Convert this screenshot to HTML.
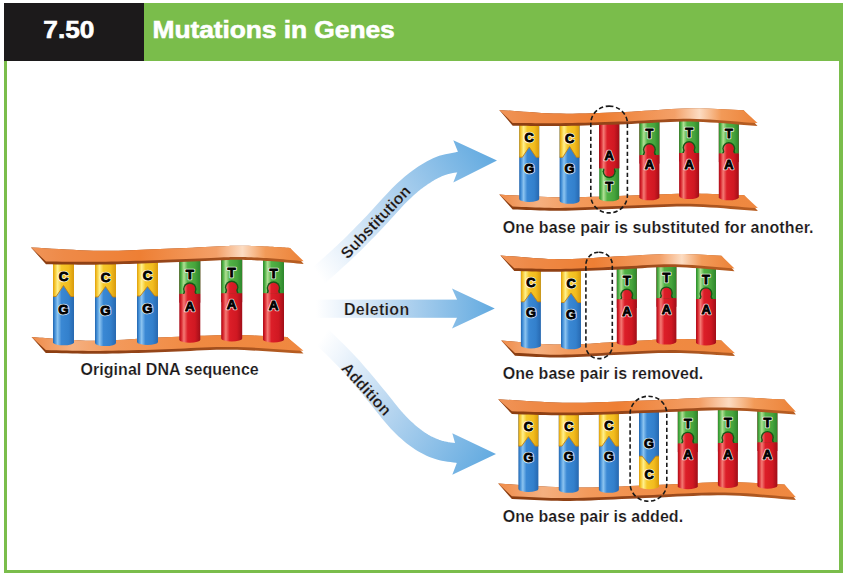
<!DOCTYPE html>
<html><head><meta charset="utf-8"><style>
html,body{margin:0;padding:0;background:#fff;}
svg{display:block;}
.hd{font-family:"Liberation Sans", sans-serif;font-weight:bold;font-size:24.2px;fill:#fff;stroke:#fff;stroke-width:0.6px;}
.cap{font-family:"Liberation Sans", sans-serif;font-weight:bold;font-size:16px;fill:#1a1718;stroke:#fff;stroke-width:0.18px;}
.lh{font-family:"Liberation Sans", sans-serif;font-weight:bold;font-size:12.8px;fill:#000;text-anchor:middle;stroke:rgba(255,255,255,0.8);stroke-width:2.6px;stroke-linejoin:round;}
.lt{font-family:"Liberation Sans", sans-serif;font-weight:bold;font-size:12.8px;fill:#000;text-anchor:middle;stroke:#000;stroke-width:0.85px;stroke-linejoin:round;}
</style></head><body>
<svg width="843" height="574" viewBox="0 0 843 574">
<defs>
<linearGradient id="g_blue" x1="0" y1="0" x2="1" y2="0">
<stop offset="0" stop-color="#2264ac"/>
<stop offset="0.08" stop-color="#3d8ad4"/>
<stop offset="0.22" stop-color="#8cc4f0"/>
<stop offset="0.4" stop-color="#3a88d4"/>
<stop offset="0.75" stop-color="#3380cc"/>
<stop offset="1" stop-color="#2768b0"/>
</linearGradient>
<linearGradient id="g_yellow" x1="0" y1="0" x2="1" y2="0">
<stop offset="0" stop-color="#dc9c0c"/>
<stop offset="0.08" stop-color="#f4c228"/>
<stop offset="0.22" stop-color="#fff08c"/>
<stop offset="0.4" stop-color="#f6c82a"/>
<stop offset="0.75" stop-color="#f2bc1e"/>
<stop offset="1" stop-color="#d89a0c"/>
</linearGradient>
<linearGradient id="g_green" x1="0" y1="0" x2="1" y2="0">
<stop offset="0" stop-color="#2c882c"/>
<stop offset="0.08" stop-color="#48ac40"/>
<stop offset="0.22" stop-color="#b0e094"/>
<stop offset="0.4" stop-color="#52b246"/>
<stop offset="0.75" stop-color="#46a43c"/>
<stop offset="1" stop-color="#2c862c"/>
</linearGradient>
<linearGradient id="g_red" x1="0" y1="0" x2="1" y2="0">
<stop offset="0" stop-color="#a60e1a"/>
<stop offset="0.08" stop-color="#d41c26"/>
<stop offset="0.22" stop-color="#f47a74"/>
<stop offset="0.4" stop-color="#dc1e28"/>
<stop offset="0.75" stop-color="#d01822"/>
<stop offset="1" stop-color="#a00e18"/>
</linearGradient>
<linearGradient id="g_strand" x1="0" y1="0" x2="1" y2="0"><stop offset="0" stop-color="#f09458"/><stop offset="0.12" stop-color="#ee8a48"/><stop offset="0.4" stop-color="#ee7f34"/><stop offset="0.68" stop-color="#f3a068"/><stop offset="0.775" stop-color="#fcdcc2"/><stop offset="0.86" stop-color="#f29a58"/><stop offset="1" stop-color="#ec8238"/></linearGradient>
<linearGradient id="g_strand_b" x1="0" y1="0" x2="1" y2="0"><stop offset="0" stop-color="#ef8c4a"/><stop offset="0.15" stop-color="#f5b080"/><stop offset="0.3" stop-color="#f39a5c"/><stop offset="0.6" stop-color="#f08a42"/><stop offset="1" stop-color="#ef8840"/></linearGradient>
<linearGradient id="g_band" x1="0" y1="0" x2="1" y2="0"><stop offset="0" stop-color="#8a3d10"/><stop offset="0.5" stop-color="#96461a"/><stop offset="1" stop-color="#b85e22"/></linearGradient>
</defs>
<rect x="5.5" y="4.5" width="835.5" height="567" fill="none" stroke="#7abd4b" stroke-width="3"/>
<rect x="839" y="3" width="4" height="570" fill="#7abd4b"/>
<rect x="144" y="3" width="699" height="58" fill="#7abd4b"/>
<rect x="4" y="3" width="140" height="58" fill="#1c1a1b"/>
<text transform="translate(43.3,37.6) scale(1.085,1)" class="hd">7.50</text>
<text transform="translate(152.5,37.6) scale(1.09,1)" class="hd" style="letter-spacing:-0.05px">Mutations in Genes</text>
<polygon points="31.60,337.00 34.39,337.21 37.09,337.43 39.75,337.64 42.40,337.86 45.07,338.08 47.80,338.29 50.63,338.50 53.58,338.71 56.69,338.91 60.00,339.10 63.42,339.31 66.86,339.55 70.36,339.80 73.96,340.06 77.71,340.30 81.64,340.51 85.80,340.68 90.21,340.80 94.94,340.84 100.00,340.80 105.49,340.65 111.40,340.41 117.66,340.09 124.20,339.71 130.94,339.29 137.80,338.86 144.71,338.42 151.60,338.00 158.39,337.62 165.00,337.30 171.54,337.01 178.13,336.71 184.75,336.42 191.38,336.13 197.99,335.87 204.57,335.63 211.08,335.43 217.51,335.26 223.82,335.15 230.00,335.10 236.03,335.12 241.93,335.20 247.71,335.35 253.41,335.53 259.04,335.75 264.64,335.99 270.22,336.23 275.81,336.48 281.43,336.70 287.10,336.90 303.50,353.60 296.11,353.18 288.66,352.72 281.18,352.23 273.69,351.74 266.22,351.26 258.79,350.81 251.43,350.41 244.16,350.08 237.01,349.83 230.00,349.70 223.16,349.69 216.46,349.79 209.88,349.98 203.39,350.24 196.97,350.56 190.59,350.90 184.23,351.24 177.86,351.57 171.46,351.86 165.00,352.10 158.45,352.30 151.83,352.51 145.16,352.71 138.48,352.91 131.82,353.10 125.22,353.27 118.71,353.42 112.31,353.55 106.06,353.64 100.00,353.70 94.14,353.72 88.47,353.69 82.95,353.64 77.54,353.55 72.23,353.45 66.96,353.34 61.72,353.22 56.47,353.10 51.17,352.99 45.80,352.90" fill="url(#g_band)"/>
<polygon points="31.60,337.00 34.39,337.21 37.09,337.43 39.75,337.64 42.40,337.86 45.07,338.08 47.80,338.29 50.63,338.50 53.58,338.71 56.69,338.91 60.00,339.10 63.42,339.31 66.86,339.55 70.36,339.80 73.96,340.06 77.71,340.30 81.64,340.51 85.80,340.68 90.21,340.80 94.94,340.84 100.00,340.80 105.49,340.65 111.40,340.41 117.66,340.09 124.20,339.71 130.94,339.29 137.80,338.86 144.71,338.42 151.60,338.00 158.39,337.62 165.00,337.30 171.54,337.01 178.13,336.71 184.75,336.42 191.38,336.13 197.99,335.87 204.57,335.63 211.08,335.43 217.51,335.26 223.82,335.15 230.00,335.10 236.03,335.12 241.93,335.20 247.71,335.35 253.41,335.53 259.04,335.75 264.64,335.99 270.22,336.23 275.81,336.48 281.43,336.70 287.10,336.90 303.50,350.80 296.11,350.38 288.66,349.92 281.18,349.43 273.69,348.94 266.22,348.46 258.79,348.01 251.43,347.61 244.16,347.28 237.01,347.03 230.00,346.90 223.16,346.89 216.46,346.99 209.88,347.18 203.39,347.44 196.97,347.76 190.59,348.10 184.23,348.44 177.86,348.77 171.46,349.06 165.00,349.30 158.45,349.50 151.83,349.71 145.16,349.91 138.48,350.11 131.82,350.30 125.22,350.47 118.71,350.62 112.31,350.75 106.06,350.84 100.00,350.90 94.14,350.92 88.47,350.89 82.95,350.84 77.54,350.75 72.23,350.65 66.96,350.54 61.72,350.42 56.47,350.30 51.17,350.19 45.80,350.10" fill="url(#g_strand_b)"/>
<linearGradient id="r1_yellow" gradientUnits="userSpaceOnUse" x1="53.00" y1="0" x2="74.00" y2="0"><stop offset="0" stop-color="#dc9c0c"/><stop offset="0.08" stop-color="#f4c228"/><stop offset="0.22" stop-color="#fff08c"/><stop offset="0.4" stop-color="#f6c82a"/><stop offset="0.75" stop-color="#f2bc1e"/><stop offset="1" stop-color="#d89a0c"/></linearGradient>
<linearGradient id="r1_blue" gradientUnits="userSpaceOnUse" x1="53.00" y1="0" x2="74.00" y2="0"><stop offset="0" stop-color="#2264ac"/><stop offset="0.08" stop-color="#3d8ad4"/><stop offset="0.22" stop-color="#8cc4f0"/><stop offset="0.4" stop-color="#3a88d4"/><stop offset="0.75" stop-color="#3380cc"/><stop offset="1" stop-color="#2768b0"/></linearGradient>
<path d="M53.00,255.00 H74.00 V342.30 A10.50,3.00 0 0 1 53.00,342.30 Z" fill="url(#r1_blue)"/>
<path d="M53.00,255.00 H74.00 V296.50 L70.80,296.50 L63.50,285.50 L56.20,296.50 L53.00,296.50 Z" fill="url(#r1_yellow)"/>
<polyline points="53.00,296.50 56.20,296.50 63.50,285.50 70.80,296.50 74.00,296.50" fill="none" stroke="#c0801a" stroke-width="0.9" stroke-linejoin="round"/>
<text transform="translate(63.50,281.48) scale(1,1.000)" class="lh" style="font-size:13.4px">C</text>
<text transform="translate(63.50,281.48) scale(1,1.000)" class="lt" style="font-size:13.4px">C</text>
<text transform="translate(63.50,313.88) scale(1,1.000)" class="lh" style="font-size:13.4px">G</text>
<text transform="translate(63.50,313.88) scale(1,1.000)" class="lt" style="font-size:13.4px">G</text>
<linearGradient id="r2_yellow" gradientUnits="userSpaceOnUse" x1="95.00" y1="0" x2="116.00" y2="0"><stop offset="0" stop-color="#dc9c0c"/><stop offset="0.08" stop-color="#f4c228"/><stop offset="0.22" stop-color="#fff08c"/><stop offset="0.4" stop-color="#f6c82a"/><stop offset="0.75" stop-color="#f2bc1e"/><stop offset="1" stop-color="#d89a0c"/></linearGradient>
<linearGradient id="r2_blue" gradientUnits="userSpaceOnUse" x1="95.00" y1="0" x2="116.00" y2="0"><stop offset="0" stop-color="#2264ac"/><stop offset="0.08" stop-color="#3d8ad4"/><stop offset="0.22" stop-color="#8cc4f0"/><stop offset="0.4" stop-color="#3a88d4"/><stop offset="0.75" stop-color="#3380cc"/><stop offset="1" stop-color="#2768b0"/></linearGradient>
<path d="M95.00,255.00 H116.00 V343.10 A10.50,3.00 0 0 1 95.00,343.10 Z" fill="url(#r2_blue)"/>
<path d="M95.00,255.00 H116.00 V297.00 L112.80,297.00 L105.50,286.60 L98.20,297.00 L95.00,297.00 Z" fill="url(#r2_yellow)"/>
<polyline points="95.00,297.00 98.20,297.00 105.50,286.60 112.80,297.00 116.00,297.00" fill="none" stroke="#c0801a" stroke-width="0.9" stroke-linejoin="round"/>
<text transform="translate(105.50,282.08) scale(1,1.000)" class="lh" style="font-size:13.4px">C</text>
<text transform="translate(105.50,282.08) scale(1,1.000)" class="lt" style="font-size:13.4px">C</text>
<text transform="translate(105.50,314.68) scale(1,1.000)" class="lh" style="font-size:13.4px">G</text>
<text transform="translate(105.50,314.68) scale(1,1.000)" class="lt" style="font-size:13.4px">G</text>
<linearGradient id="r3_yellow" gradientUnits="userSpaceOnUse" x1="137.00" y1="0" x2="158.00" y2="0"><stop offset="0" stop-color="#dc9c0c"/><stop offset="0.08" stop-color="#f4c228"/><stop offset="0.22" stop-color="#fff08c"/><stop offset="0.4" stop-color="#f6c82a"/><stop offset="0.75" stop-color="#f2bc1e"/><stop offset="1" stop-color="#d89a0c"/></linearGradient>
<linearGradient id="r3_blue" gradientUnits="userSpaceOnUse" x1="137.00" y1="0" x2="158.00" y2="0"><stop offset="0" stop-color="#2264ac"/><stop offset="0.08" stop-color="#3d8ad4"/><stop offset="0.22" stop-color="#8cc4f0"/><stop offset="0.4" stop-color="#3a88d4"/><stop offset="0.75" stop-color="#3380cc"/><stop offset="1" stop-color="#2768b0"/></linearGradient>
<path d="M137.00,255.00 H158.00 V341.90 A10.50,3.00 0 0 1 137.00,341.90 Z" fill="url(#r3_blue)"/>
<path d="M137.00,255.00 H158.00 V296.00 L154.80,296.00 L147.50,286.60 L140.20,296.00 L137.00,296.00 Z" fill="url(#r3_yellow)"/>
<polyline points="137.00,296.00 140.20,296.00 147.50,286.60 154.80,296.00 158.00,296.00" fill="none" stroke="#c0801a" stroke-width="0.9" stroke-linejoin="round"/>
<text transform="translate(147.50,279.98) scale(1,1.000)" class="lh" style="font-size:13.4px">C</text>
<text transform="translate(147.50,279.98) scale(1,1.000)" class="lt" style="font-size:13.4px">C</text>
<text transform="translate(147.50,312.68) scale(1,1.000)" class="lh" style="font-size:13.4px">G</text>
<text transform="translate(147.50,312.68) scale(1,1.000)" class="lt" style="font-size:13.4px">G</text>
<linearGradient id="r4_green" gradientUnits="userSpaceOnUse" x1="179.30" y1="0" x2="200.30" y2="0"><stop offset="0" stop-color="#2c882c"/><stop offset="0.08" stop-color="#48ac40"/><stop offset="0.22" stop-color="#b0e094"/><stop offset="0.4" stop-color="#52b246"/><stop offset="0.75" stop-color="#46a43c"/><stop offset="1" stop-color="#2c862c"/></linearGradient>
<linearGradient id="r4_red" gradientUnits="userSpaceOnUse" x1="179.30" y1="0" x2="200.30" y2="0"><stop offset="0" stop-color="#a60e1a"/><stop offset="0.08" stop-color="#d41c26"/><stop offset="0.22" stop-color="#f47a74"/><stop offset="0.4" stop-color="#dc1e28"/><stop offset="0.75" stop-color="#d01822"/><stop offset="1" stop-color="#a00e18"/></linearGradient>
<path d="M179.30,252.00 H200.30 V339.70 A10.50,3.00 0 0 1 179.30,339.70 Z" fill="url(#r4_red)"/>
<path d="M179.30,252.00 H200.30 V293.90 H179.30 Z" fill="url(#r4_green)"/>
<circle cx="189.80" cy="289.10" r="6.80" fill="#175617"/>
<path d="M184.89,289.10 L194.71,289.10 L196.91,293.90 L182.69,293.90 Z" fill="#175617"/>
<rect x="179.30" y="293.90" width="21.00" height="8.80" fill="url(#r4_red)"/>
<circle cx="189.80" cy="289.10" r="5.40" fill="url(#r4_red)"/>
<path d="M186.29,289.10 L193.31,289.10 L195.31,294.20 L184.29,294.20 Z" fill="url(#r4_red)"/>
<text transform="translate(189.80,278.88) scale(1,1.000)" class="lh" style="font-size:13.4px">T</text>
<text transform="translate(189.80,278.88) scale(1,1.000)" class="lt" style="font-size:13.4px">T</text>
<text transform="translate(189.80,310.88) scale(1,1.000)" class="lh" style="font-size:13.4px">A</text>
<text transform="translate(189.80,310.88) scale(1,1.000)" class="lt" style="font-size:13.4px">A</text>
<linearGradient id="r5_green" gradientUnits="userSpaceOnUse" x1="221.20" y1="0" x2="242.20" y2="0"><stop offset="0" stop-color="#2c882c"/><stop offset="0.08" stop-color="#48ac40"/><stop offset="0.22" stop-color="#b0e094"/><stop offset="0.4" stop-color="#52b246"/><stop offset="0.75" stop-color="#46a43c"/><stop offset="1" stop-color="#2c862c"/></linearGradient>
<linearGradient id="r5_red" gradientUnits="userSpaceOnUse" x1="221.20" y1="0" x2="242.20" y2="0"><stop offset="0" stop-color="#a60e1a"/><stop offset="0.08" stop-color="#d41c26"/><stop offset="0.22" stop-color="#f47a74"/><stop offset="0.4" stop-color="#dc1e28"/><stop offset="0.75" stop-color="#d01822"/><stop offset="1" stop-color="#a00e18"/></linearGradient>
<path d="M221.20,250.00 H242.20 V338.50 A10.50,3.00 0 0 1 221.20,338.50 Z" fill="url(#r5_red)"/>
<path d="M221.20,250.00 H242.20 V293.40 H221.20 Z" fill="url(#r5_green)"/>
<circle cx="231.70" cy="287.30" r="6.80" fill="#175617"/>
<path d="M226.79,287.30 L236.61,287.30 L238.81,293.40 L224.59,293.40 Z" fill="#175617"/>
<rect x="221.20" y="293.40" width="21.00" height="8.80" fill="url(#r5_red)"/>
<circle cx="231.70" cy="287.30" r="5.40" fill="url(#r5_red)"/>
<path d="M228.19,287.30 L235.21,287.30 L237.21,293.70 L226.19,293.70 Z" fill="url(#r5_red)"/>
<text transform="translate(231.70,277.08) scale(1,1.000)" class="lh" style="font-size:13.4px">T</text>
<text transform="translate(231.70,277.08) scale(1,1.000)" class="lt" style="font-size:13.4px">T</text>
<text transform="translate(231.70,308.98) scale(1,1.000)" class="lh" style="font-size:13.4px">A</text>
<text transform="translate(231.70,308.98) scale(1,1.000)" class="lt" style="font-size:13.4px">A</text>
<linearGradient id="r6_green" gradientUnits="userSpaceOnUse" x1="263.00" y1="0" x2="284.00" y2="0"><stop offset="0" stop-color="#2c882c"/><stop offset="0.08" stop-color="#48ac40"/><stop offset="0.22" stop-color="#b0e094"/><stop offset="0.4" stop-color="#52b246"/><stop offset="0.75" stop-color="#46a43c"/><stop offset="1" stop-color="#2c862c"/></linearGradient>
<linearGradient id="r6_red" gradientUnits="userSpaceOnUse" x1="263.00" y1="0" x2="284.00" y2="0"><stop offset="0" stop-color="#a60e1a"/><stop offset="0.08" stop-color="#d41c26"/><stop offset="0.22" stop-color="#f47a74"/><stop offset="0.4" stop-color="#dc1e28"/><stop offset="0.75" stop-color="#d01822"/><stop offset="1" stop-color="#a00e18"/></linearGradient>
<path d="M263.00,250.00 H284.00 V339.40 A10.50,3.00 0 0 1 263.00,339.40 Z" fill="url(#r6_red)"/>
<path d="M263.00,250.00 H284.00 V293.40 H263.00 Z" fill="url(#r6_green)"/>
<circle cx="273.50" cy="288.10" r="6.80" fill="#175617"/>
<path d="M268.59,288.10 L278.41,288.10 L280.61,293.40 L266.39,293.40 Z" fill="#175617"/>
<rect x="263.00" y="293.40" width="21.00" height="8.80" fill="url(#r6_red)"/>
<circle cx="273.50" cy="288.10" r="5.40" fill="url(#r6_red)"/>
<path d="M269.99,288.10 L277.01,288.10 L279.01,293.70 L267.99,293.70 Z" fill="url(#r6_red)"/>
<text transform="translate(273.50,277.88) scale(1,1.000)" class="lh" style="font-size:13.4px">T</text>
<text transform="translate(273.50,277.88) scale(1,1.000)" class="lt" style="font-size:13.4px">T</text>
<text transform="translate(273.50,309.98) scale(1,1.000)" class="lh" style="font-size:13.4px">A</text>
<text transform="translate(273.50,309.98) scale(1,1.000)" class="lt" style="font-size:13.4px">A</text>
<polygon points="31.00,247.50 37.94,247.85 44.94,248.24 51.98,248.65 59.03,249.06 66.06,249.46 73.05,249.84 79.96,250.18 86.78,250.46 93.46,250.67 100.00,250.80 106.36,250.84 112.58,250.80 118.66,250.69 124.65,250.53 130.56,250.33 136.43,250.10 142.28,249.85 148.14,249.59 154.04,249.34 160.00,249.10 166.18,248.85 172.64,248.58 179.26,248.27 185.92,247.95 192.50,247.63 198.88,247.31 204.94,247.01 210.56,246.74 215.62,246.50 220.00,246.30 223.58,246.14 226.40,246.01 228.62,245.91 230.40,245.82 231.88,245.76 233.20,245.72 234.52,245.69 236.00,245.68 237.78,245.69 240.00,245.70 242.64,245.73 245.52,245.79 248.58,245.87 251.76,245.97 255.00,246.08 258.24,246.20 261.42,246.33 264.48,246.46 267.36,246.58 270.00,246.70 272.40,246.82 274.64,246.94 276.74,247.07 278.72,247.20 280.62,247.33 282.48,247.47 284.31,247.60 286.16,247.74 288.04,247.87 290.00,248.00 303.70,264.00 300.31,263.70 296.90,263.39 293.47,263.08 290.04,262.76 286.62,262.45 283.21,262.14 279.84,261.85 276.50,261.58 273.22,261.33 270.00,261.10 266.81,260.90 263.60,260.71 260.41,260.54 257.25,260.38 254.14,260.24 251.10,260.11 248.15,260.01 245.30,259.92 242.58,259.85 240.00,259.80 237.78,259.77 236.00,259.75 234.52,259.75 233.20,259.77 231.88,259.81 230.40,259.87 228.62,259.95 226.40,260.04 223.58,260.16 220.00,260.30 215.62,260.47 210.56,260.68 204.94,260.93 198.88,261.19 192.50,261.47 185.92,261.75 179.26,262.04 172.64,262.31 166.18,262.57 160.00,262.80 153.97,263.02 147.90,263.24 141.81,263.46 135.71,263.67 129.62,263.88 123.57,264.06 117.56,264.24 111.62,264.39 105.76,264.51 100.00,264.60 94.36,264.66 88.82,264.67 83.36,264.66 77.97,264.63 72.62,264.58 67.31,264.52 62.01,264.46 56.70,264.39 51.37,264.34 46.00,264.30" fill="url(#g_band)"/>
<polygon points="31.00,247.50 37.94,247.85 44.94,248.24 51.98,248.65 59.03,249.06 66.06,249.46 73.05,249.84 79.96,250.18 86.78,250.46 93.46,250.67 100.00,250.80 106.36,250.84 112.58,250.80 118.66,250.69 124.65,250.53 130.56,250.33 136.43,250.10 142.28,249.85 148.14,249.59 154.04,249.34 160.00,249.10 166.18,248.85 172.64,248.58 179.26,248.27 185.92,247.95 192.50,247.63 198.88,247.31 204.94,247.01 210.56,246.74 215.62,246.50 220.00,246.30 223.58,246.14 226.40,246.01 228.62,245.91 230.40,245.82 231.88,245.76 233.20,245.72 234.52,245.69 236.00,245.68 237.78,245.69 240.00,245.70 242.64,245.73 245.52,245.79 248.58,245.87 251.76,245.97 255.00,246.08 258.24,246.20 261.42,246.33 264.48,246.46 267.36,246.58 270.00,246.70 272.40,246.82 274.64,246.94 276.74,247.07 278.72,247.20 280.62,247.33 282.48,247.47 284.31,247.60 286.16,247.74 288.04,247.87 290.00,248.00 303.70,261.20 300.31,260.90 296.90,260.59 293.47,260.28 290.04,259.96 286.62,259.65 283.21,259.34 279.84,259.05 276.50,258.78 273.22,258.53 270.00,258.30 266.81,258.10 263.60,257.91 260.41,257.74 257.25,257.58 254.14,257.44 251.10,257.31 248.15,257.21 245.30,257.12 242.58,257.05 240.00,257.00 237.78,256.97 236.00,256.95 234.52,256.95 233.20,256.97 231.88,257.01 230.40,257.07 228.62,257.15 226.40,257.24 223.58,257.36 220.00,257.50 215.62,257.67 210.56,257.88 204.94,258.13 198.88,258.39 192.50,258.67 185.92,258.95 179.26,259.24 172.64,259.51 166.18,259.77 160.00,260.00 153.97,260.22 147.90,260.44 141.81,260.66 135.71,260.87 129.62,261.07 123.57,261.26 117.56,261.44 111.62,261.59 105.76,261.71 100.00,261.80 94.36,261.86 88.82,261.87 83.36,261.86 77.97,261.83 72.62,261.78 67.31,261.72 62.01,261.66 56.70,261.59 51.37,261.54 46.00,261.50" fill="url(#g_strand)"/>
<polygon points="499.30,194.60 505.35,194.89 511.37,195.21 517.37,195.54 523.37,195.88 529.38,196.21 535.41,196.52 541.47,196.80 547.58,197.03 553.76,197.20 560.00,197.30 566.33,197.32 572.72,197.28 579.18,197.18 585.69,197.04 592.23,196.86 598.79,196.65 605.36,196.43 611.93,196.21 618.48,196.00 625.00,195.80 631.55,195.59 638.17,195.34 644.84,195.07 651.52,194.78 658.18,194.50 664.78,194.23 671.29,194.00 677.69,193.80 683.94,193.67 690.00,193.60 695.86,193.61 701.53,193.69 707.05,193.82 712.46,194.00 717.77,194.21 723.04,194.43 728.28,194.67 733.53,194.90 738.83,195.11 744.20,195.30 757.90,210.90 751.10,210.44 744.27,209.94 737.44,209.41 730.60,208.88 723.77,208.36 716.95,207.87 710.16,207.43 703.39,207.06 696.67,206.77 690.00,206.60 683.38,206.54 676.81,206.60 670.29,206.73 663.79,206.94 657.32,207.20 650.86,207.49 644.41,207.79 637.95,208.09 631.49,208.37 625.00,208.60 618.42,208.82 611.72,209.07 604.94,209.33 598.15,209.60 591.39,209.86 584.73,210.10 578.20,210.32 571.87,210.50 565.78,210.63 560.00,210.70 554.55,210.71 549.41,210.66 544.51,210.56 539.81,210.42 535.24,210.26 530.77,210.08 526.33,209.90 521.88,209.71 517.35,209.55 512.70,209.40" fill="url(#g_band)"/>
<polygon points="499.30,194.60 505.35,194.89 511.37,195.21 517.37,195.54 523.37,195.88 529.38,196.21 535.41,196.52 541.47,196.80 547.58,197.03 553.76,197.20 560.00,197.30 566.33,197.32 572.72,197.28 579.18,197.18 585.69,197.04 592.23,196.86 598.79,196.65 605.36,196.43 611.93,196.21 618.48,196.00 625.00,195.80 631.55,195.59 638.17,195.34 644.84,195.07 651.52,194.78 658.18,194.50 664.78,194.23 671.29,194.00 677.69,193.80 683.94,193.67 690.00,193.60 695.86,193.61 701.53,193.69 707.05,193.82 712.46,194.00 717.77,194.21 723.04,194.43 728.28,194.67 733.53,194.90 738.83,195.11 744.20,195.30 757.90,208.10 751.10,207.64 744.27,207.14 737.44,206.61 730.60,206.08 723.77,205.56 716.95,205.07 710.16,204.63 703.39,204.26 696.67,203.97 690.00,203.80 683.38,203.74 676.81,203.80 670.29,203.93 663.79,204.14 657.32,204.40 650.86,204.69 644.41,204.99 637.95,205.29 631.49,205.57 625.00,205.80 618.42,206.02 611.72,206.27 604.94,206.53 598.15,206.80 591.39,207.06 584.73,207.30 578.20,207.52 571.87,207.70 565.78,207.83 560.00,207.90 554.55,207.91 549.41,207.86 544.51,207.76 539.81,207.62 535.24,207.46 530.77,207.28 526.33,207.10 521.88,206.91 517.35,206.75 512.70,206.60" fill="url(#g_strand_b)"/>
<linearGradient id="r7_yellow" gradientUnits="userSpaceOnUse" x1="519.20" y1="0" x2="539.20" y2="0"><stop offset="0" stop-color="#dc9c0c"/><stop offset="0.08" stop-color="#f4c228"/><stop offset="0.22" stop-color="#fff08c"/><stop offset="0.4" stop-color="#f6c82a"/><stop offset="0.75" stop-color="#f2bc1e"/><stop offset="1" stop-color="#d89a0c"/></linearGradient>
<linearGradient id="r7_blue" gradientUnits="userSpaceOnUse" x1="519.20" y1="0" x2="539.20" y2="0"><stop offset="0" stop-color="#2264ac"/><stop offset="0.08" stop-color="#3d8ad4"/><stop offset="0.22" stop-color="#8cc4f0"/><stop offset="0.4" stop-color="#3a88d4"/><stop offset="0.75" stop-color="#3380cc"/><stop offset="1" stop-color="#2768b0"/></linearGradient>
<path d="M519.20,115.00 H539.20 V199.00 A10.00,3.00 0 0 1 519.20,199.00 Z" fill="url(#r7_blue)"/>
<path d="M519.20,115.00 H539.20 V157.20 L536.00,157.20 L529.20,147.00 L522.40,157.20 L519.20,157.20 Z" fill="url(#r7_yellow)"/>
<polyline points="519.20,157.20 522.40,157.20 529.20,147.00 536.00,157.20 539.20,157.20" fill="none" stroke="#c0801a" stroke-width="0.9" stroke-linejoin="round"/>
<text transform="translate(529.20,141.77) scale(1,1.000)" class="lh" style="font-size:12.8px">C</text>
<text transform="translate(529.20,141.77) scale(1,1.000)" class="lt" style="font-size:12.8px">C</text>
<text transform="translate(529.20,172.87) scale(1,1.000)" class="lh" style="font-size:12.8px">G</text>
<text transform="translate(529.20,172.87) scale(1,1.000)" class="lt" style="font-size:12.8px">G</text>
<linearGradient id="r8_yellow" gradientUnits="userSpaceOnUse" x1="559.60" y1="0" x2="579.60" y2="0"><stop offset="0" stop-color="#dc9c0c"/><stop offset="0.08" stop-color="#f4c228"/><stop offset="0.22" stop-color="#fff08c"/><stop offset="0.4" stop-color="#f6c82a"/><stop offset="0.75" stop-color="#f2bc1e"/><stop offset="1" stop-color="#d89a0c"/></linearGradient>
<linearGradient id="r8_blue" gradientUnits="userSpaceOnUse" x1="559.60" y1="0" x2="579.60" y2="0"><stop offset="0" stop-color="#2264ac"/><stop offset="0.08" stop-color="#3d8ad4"/><stop offset="0.22" stop-color="#8cc4f0"/><stop offset="0.4" stop-color="#3a88d4"/><stop offset="0.75" stop-color="#3380cc"/><stop offset="1" stop-color="#2768b0"/></linearGradient>
<path d="M559.60,115.00 H579.60 V200.80 A10.00,3.00 0 0 1 559.60,200.80 Z" fill="url(#r8_blue)"/>
<path d="M559.60,115.00 H579.60 V157.30 L576.40,157.30 L569.60,146.40 L562.80,157.30 L559.60,157.30 Z" fill="url(#r8_yellow)"/>
<polyline points="559.60,157.30 562.80,157.30 569.60,146.40 576.40,157.30 579.60,157.30" fill="none" stroke="#c0801a" stroke-width="0.9" stroke-linejoin="round"/>
<text transform="translate(569.60,142.77) scale(1,1.000)" class="lh" style="font-size:12.8px">C</text>
<text transform="translate(569.60,142.77) scale(1,1.000)" class="lt" style="font-size:12.8px">C</text>
<text transform="translate(569.60,173.47) scale(1,1.000)" class="lh" style="font-size:12.8px">G</text>
<text transform="translate(569.60,173.47) scale(1,1.000)" class="lt" style="font-size:12.8px">G</text>
<linearGradient id="r9_red" gradientUnits="userSpaceOnUse" x1="599.20" y1="0" x2="619.20" y2="0"><stop offset="0" stop-color="#a60e1a"/><stop offset="0.08" stop-color="#d41c26"/><stop offset="0.22" stop-color="#f47a74"/><stop offset="0.4" stop-color="#dc1e28"/><stop offset="0.75" stop-color="#d01822"/><stop offset="1" stop-color="#a00e18"/></linearGradient>
<linearGradient id="r9_green" gradientUnits="userSpaceOnUse" x1="599.20" y1="0" x2="619.20" y2="0"><stop offset="0" stop-color="#2c882c"/><stop offset="0.08" stop-color="#48ac40"/><stop offset="0.22" stop-color="#b0e094"/><stop offset="0.4" stop-color="#52b246"/><stop offset="0.75" stop-color="#46a43c"/><stop offset="1" stop-color="#2c862c"/></linearGradient>
<path d="M599.20,115.00 H619.20 V198.30 A10.00,3.00 0 0 1 599.20,198.30 Z" fill="url(#r9_green)"/>
<path d="M599.20,115.00 H619.20 V168.20 H599.20 Z" fill="url(#r9_red)"/>
<circle cx="609.20" cy="171.70" r="6.50" fill="#175617"/>
<path d="M604.49,168.20 L613.92,168.20 L616.12,171.70 L602.28,171.70 Z" fill="#175617"/>
<path d="M599.20,115.00 H619.20 V168.20 H599.20 Z" fill="url(#r9_red)"/>
<circle cx="609.20" cy="171.70" r="5.10" fill="url(#r9_red)"/>
<path d="M603.88,167.90 L614.52,167.90 L612.52,171.70 L605.88,171.70 Z" fill="url(#r9_red)"/>
<text transform="translate(609.20,159.57) scale(1,1.000)" class="lh" style="font-size:12.8px">A</text>
<text transform="translate(609.20,159.57) scale(1,1.000)" class="lt" style="font-size:12.8px">A</text>
<text transform="translate(609.20,191.47) scale(1,1.000)" class="lh" style="font-size:12.8px">T</text>
<text transform="translate(609.20,191.47) scale(1,1.000)" class="lt" style="font-size:12.8px">T</text>
<linearGradient id="r10_green" gradientUnits="userSpaceOnUse" x1="639.40" y1="0" x2="659.40" y2="0"><stop offset="0" stop-color="#2c882c"/><stop offset="0.08" stop-color="#48ac40"/><stop offset="0.22" stop-color="#b0e094"/><stop offset="0.4" stop-color="#52b246"/><stop offset="0.75" stop-color="#46a43c"/><stop offset="1" stop-color="#2c862c"/></linearGradient>
<linearGradient id="r10_red" gradientUnits="userSpaceOnUse" x1="639.40" y1="0" x2="659.40" y2="0"><stop offset="0" stop-color="#a60e1a"/><stop offset="0.08" stop-color="#d41c26"/><stop offset="0.22" stop-color="#f47a74"/><stop offset="0.4" stop-color="#dc1e28"/><stop offset="0.75" stop-color="#d01822"/><stop offset="1" stop-color="#a00e18"/></linearGradient>
<path d="M639.40,113.00 H659.40 V197.30 A10.00,3.00 0 0 1 639.40,197.30 Z" fill="url(#r10_red)"/>
<path d="M639.40,113.00 H659.40 V155.10 H639.40 Z" fill="url(#r10_green)"/>
<circle cx="649.40" cy="149.50" r="6.50" fill="#175617"/>
<path d="M644.68,149.50 L654.12,149.50 L656.32,155.10 L642.48,155.10 Z" fill="#175617"/>
<rect x="639.40" y="155.10" width="20.00" height="8.50" fill="url(#r10_red)"/>
<circle cx="649.40" cy="149.50" r="5.10" fill="url(#r10_red)"/>
<path d="M646.08,149.50 L652.72,149.50 L654.72,155.40 L644.08,155.40 Z" fill="url(#r10_red)"/>
<text transform="translate(649.40,138.37) scale(1,1.000)" class="lh" style="font-size:12.8px">T</text>
<text transform="translate(649.40,138.37) scale(1,1.000)" class="lt" style="font-size:12.8px">T</text>
<text transform="translate(649.40,169.47) scale(1,1.000)" class="lh" style="font-size:12.8px">A</text>
<text transform="translate(649.40,169.47) scale(1,1.000)" class="lt" style="font-size:12.8px">A</text>
<linearGradient id="r11_green" gradientUnits="userSpaceOnUse" x1="679.10" y1="0" x2="699.10" y2="0"><stop offset="0" stop-color="#2c882c"/><stop offset="0.08" stop-color="#48ac40"/><stop offset="0.22" stop-color="#b0e094"/><stop offset="0.4" stop-color="#52b246"/><stop offset="0.75" stop-color="#46a43c"/><stop offset="1" stop-color="#2c862c"/></linearGradient>
<linearGradient id="r11_red" gradientUnits="userSpaceOnUse" x1="679.10" y1="0" x2="699.10" y2="0"><stop offset="0" stop-color="#a60e1a"/><stop offset="0.08" stop-color="#d41c26"/><stop offset="0.22" stop-color="#f47a74"/><stop offset="0.4" stop-color="#dc1e28"/><stop offset="0.75" stop-color="#d01822"/><stop offset="1" stop-color="#a00e18"/></linearGradient>
<path d="M679.10,113.00 H699.10 V196.10 A10.00,3.00 0 0 1 679.10,196.10 Z" fill="url(#r11_red)"/>
<path d="M679.10,113.00 H699.10 V153.00 H679.10 Z" fill="url(#r11_green)"/>
<circle cx="689.10" cy="147.50" r="6.50" fill="#175617"/>
<path d="M684.38,147.50 L693.82,147.50 L696.02,153.00 L682.18,153.00 Z" fill="#175617"/>
<rect x="679.10" y="153.00" width="20.00" height="8.50" fill="url(#r11_red)"/>
<circle cx="689.10" cy="147.50" r="5.10" fill="url(#r11_red)"/>
<path d="M685.78,147.50 L692.42,147.50 L694.42,153.30 L683.78,153.30 Z" fill="url(#r11_red)"/>
<text transform="translate(689.10,136.77) scale(1,1.000)" class="lh" style="font-size:12.8px">T</text>
<text transform="translate(689.10,136.77) scale(1,1.000)" class="lt" style="font-size:12.8px">T</text>
<text transform="translate(689.10,168.67) scale(1,1.000)" class="lh" style="font-size:12.8px">A</text>
<text transform="translate(689.10,168.67) scale(1,1.000)" class="lt" style="font-size:12.8px">A</text>
<linearGradient id="r12_green" gradientUnits="userSpaceOnUse" x1="718.80" y1="0" x2="738.80" y2="0"><stop offset="0" stop-color="#2c882c"/><stop offset="0.08" stop-color="#48ac40"/><stop offset="0.22" stop-color="#b0e094"/><stop offset="0.4" stop-color="#52b246"/><stop offset="0.75" stop-color="#46a43c"/><stop offset="1" stop-color="#2c862c"/></linearGradient>
<linearGradient id="r12_red" gradientUnits="userSpaceOnUse" x1="718.80" y1="0" x2="738.80" y2="0"><stop offset="0" stop-color="#a60e1a"/><stop offset="0.08" stop-color="#d41c26"/><stop offset="0.22" stop-color="#f47a74"/><stop offset="0.4" stop-color="#dc1e28"/><stop offset="0.75" stop-color="#d01822"/><stop offset="1" stop-color="#a00e18"/></linearGradient>
<path d="M718.80,113.00 H738.80 V197.30 A10.00,3.00 0 0 1 718.80,197.30 Z" fill="url(#r12_red)"/>
<path d="M718.80,113.00 H738.80 V153.60 H718.80 Z" fill="url(#r12_green)"/>
<circle cx="728.80" cy="148.50" r="6.50" fill="#175617"/>
<path d="M724.08,148.50 L733.51,148.50 L735.72,153.60 L721.88,153.60 Z" fill="#175617"/>
<rect x="718.80" y="153.60" width="20.00" height="8.50" fill="url(#r12_red)"/>
<circle cx="728.80" cy="148.50" r="5.10" fill="url(#r12_red)"/>
<path d="M725.48,148.50 L732.12,148.50 L734.12,153.90 L723.48,153.90 Z" fill="url(#r12_red)"/>
<text transform="translate(728.80,137.57) scale(1,1.000)" class="lh" style="font-size:12.8px">T</text>
<text transform="translate(728.80,137.57) scale(1,1.000)" class="lt" style="font-size:12.8px">T</text>
<text transform="translate(728.80,168.67) scale(1,1.000)" class="lh" style="font-size:12.8px">A</text>
<text transform="translate(728.80,168.67) scale(1,1.000)" class="lt" style="font-size:12.8px">A</text>
<polygon points="499.30,110.00 505.35,110.38 511.37,110.80 517.37,111.24 523.37,111.69 529.38,112.12 535.41,112.53 541.47,112.90 547.58,113.21 553.76,113.45 560.00,113.60 566.33,113.66 572.72,113.65 579.18,113.57 585.69,113.44 592.23,113.26 598.79,113.04 605.36,112.80 611.93,112.54 618.48,112.27 625.00,112.00 631.55,111.69 638.18,111.30 644.86,110.86 651.54,110.40 658.21,109.92 664.81,109.47 671.33,109.06 677.72,108.71 683.96,108.45 690.00,108.30 695.83,108.27 701.46,108.34 706.94,108.48 712.29,108.69 717.56,108.94 722.76,109.23 727.95,109.52 733.14,109.81 738.38,110.07 743.70,110.30 757.50,125.90 750.74,125.44 743.96,124.93 737.17,124.39 730.38,123.85 723.59,123.32 716.82,122.82 710.07,122.38 703.34,122.02 696.65,121.75 690.00,121.60 683.40,121.58 676.84,121.69 670.32,121.90 663.82,122.18 657.34,122.52 650.88,122.89 644.42,123.26 637.96,123.62 631.49,123.94 625.00,124.20 618.42,124.42 611.72,124.64 604.94,124.86 598.15,125.08 591.39,125.28 584.73,125.47 578.20,125.64 571.87,125.79 565.78,125.91 560.00,126.00 554.55,126.06 549.41,126.07 544.51,126.06 539.81,126.03 535.24,125.98 530.77,125.92 526.33,125.86 521.88,125.79 517.35,125.74 512.70,125.70" fill="url(#g_band)"/>
<polygon points="499.30,110.00 505.35,110.38 511.37,110.80 517.37,111.24 523.37,111.69 529.38,112.12 535.41,112.53 541.47,112.90 547.58,113.21 553.76,113.45 560.00,113.60 566.33,113.66 572.72,113.65 579.18,113.57 585.69,113.44 592.23,113.26 598.79,113.04 605.36,112.80 611.93,112.54 618.48,112.27 625.00,112.00 631.55,111.69 638.18,111.30 644.86,110.86 651.54,110.40 658.21,109.92 664.81,109.47 671.33,109.06 677.72,108.71 683.96,108.45 690.00,108.30 695.83,108.27 701.46,108.34 706.94,108.48 712.29,108.69 717.56,108.94 722.76,109.23 727.95,109.52 733.14,109.81 738.38,110.07 743.70,110.30 757.50,123.10 750.74,122.64 743.96,122.13 737.17,121.59 730.38,121.05 723.59,120.52 716.82,120.02 710.07,119.58 703.34,119.22 696.65,118.95 690.00,118.80 683.40,118.78 676.84,118.89 670.32,119.10 663.82,119.38 657.34,119.72 650.88,120.09 644.42,120.46 637.96,120.82 631.49,121.14 625.00,121.40 618.42,121.62 611.72,121.84 604.94,122.06 598.15,122.28 591.39,122.48 584.73,122.67 578.20,122.84 571.87,122.99 565.78,123.11 560.00,123.20 554.55,123.26 549.41,123.27 544.51,123.26 539.81,123.23 535.24,123.18 530.77,123.12 526.33,123.06 521.88,122.99 517.35,122.94 512.70,122.90" fill="url(#g_strand)"/>
<rect x="590.80" y="106.10" width="36.60" height="106.80" rx="18.30" ry="17.39" fill="none" stroke="#1a1a1a" stroke-width="1.6" stroke-dasharray="4.4 2.6"/>
<polygon points="501.20,340.50 507.07,340.94 512.94,341.43 518.80,341.95 524.66,342.47 530.53,342.98 536.39,343.46 542.27,343.88 548.16,344.22 554.07,344.47 560.00,344.60 565.97,344.60 572.00,344.48 578.07,344.27 584.15,343.98 590.24,343.63 596.30,343.25 602.33,342.86 608.30,342.47 614.20,342.11 620.00,341.80 625.74,341.50 631.46,341.17 637.14,340.82 642.77,340.47 648.35,340.13 653.86,339.81 659.29,339.52 664.63,339.28 669.87,339.11 675.00,339.00 679.99,338.98 684.83,339.02 689.55,339.13 694.18,339.29 698.74,339.48 703.25,339.69 707.75,339.91 712.26,340.13 716.80,340.33 721.40,340.50 735.00,356.00 728.98,355.67 722.92,355.30 716.84,354.91 710.76,354.52 704.69,354.14 698.64,353.78 692.63,353.46 686.68,353.20 680.80,353.01 675.00,352.90 669.32,352.88 663.76,352.95 658.29,353.08 652.88,353.26 647.50,353.49 642.12,353.74 636.71,354.01 631.24,354.29 625.68,354.56 620.00,354.80 614.13,355.06 608.08,355.36 601.90,355.69 595.64,356.04 589.38,356.38 583.16,356.71 577.06,357.00 571.12,357.24 565.41,357.41 560.00,357.50 554.89,357.50 550.04,357.43 545.40,357.29 540.92,357.10 536.56,356.88 532.28,356.64 528.03,356.38 523.76,356.13 519.43,355.90 515.00,355.70" fill="url(#g_band)"/>
<polygon points="501.20,340.50 507.07,340.94 512.94,341.43 518.80,341.95 524.66,342.47 530.53,342.98 536.39,343.46 542.27,343.88 548.16,344.22 554.07,344.47 560.00,344.60 565.97,344.60 572.00,344.48 578.07,344.27 584.15,343.98 590.24,343.63 596.30,343.25 602.33,342.86 608.30,342.47 614.20,342.11 620.00,341.80 625.74,341.50 631.46,341.17 637.14,340.82 642.77,340.47 648.35,340.13 653.86,339.81 659.29,339.52 664.63,339.28 669.87,339.11 675.00,339.00 679.99,338.98 684.83,339.02 689.55,339.13 694.18,339.29 698.74,339.48 703.25,339.69 707.75,339.91 712.26,340.13 716.80,340.33 721.40,340.50 735.00,353.20 728.98,352.87 722.92,352.50 716.84,352.11 710.76,351.72 704.69,351.34 698.64,350.98 692.63,350.66 686.68,350.40 680.80,350.21 675.00,350.10 669.32,350.08 663.76,350.15 658.29,350.28 652.88,350.46 647.50,350.69 642.12,350.94 636.71,351.21 631.24,351.49 625.68,351.76 620.00,352.00 614.13,352.26 608.08,352.56 601.90,352.89 595.64,353.24 589.38,353.58 583.16,353.91 577.06,354.20 571.12,354.44 565.41,354.61 560.00,354.70 554.89,354.70 550.04,354.63 545.40,354.49 540.92,354.30 536.56,354.08 532.28,353.84 528.03,353.58 523.76,353.33 519.43,353.10 515.00,352.90" fill="url(#g_strand_b)"/>
<linearGradient id="r13_yellow" gradientUnits="userSpaceOnUse" x1="520.90" y1="0" x2="540.90" y2="0"><stop offset="0" stop-color="#dc9c0c"/><stop offset="0.08" stop-color="#f4c228"/><stop offset="0.22" stop-color="#fff08c"/><stop offset="0.4" stop-color="#f6c82a"/><stop offset="0.75" stop-color="#f2bc1e"/><stop offset="1" stop-color="#d89a0c"/></linearGradient>
<linearGradient id="r13_blue" gradientUnits="userSpaceOnUse" x1="520.90" y1="0" x2="540.90" y2="0"><stop offset="0" stop-color="#2264ac"/><stop offset="0.08" stop-color="#3d8ad4"/><stop offset="0.22" stop-color="#8cc4f0"/><stop offset="0.4" stop-color="#3a88d4"/><stop offset="0.75" stop-color="#3380cc"/><stop offset="1" stop-color="#2768b0"/></linearGradient>
<path d="M520.90,260.00 H540.90 V345.50 A10.00,3.00 0 0 1 520.90,345.50 Z" fill="url(#r13_blue)"/>
<path d="M520.90,260.00 H540.90 V301.80 L537.70,301.80 L530.90,292.20 L524.10,301.80 L520.90,301.80 Z" fill="url(#r13_yellow)"/>
<polyline points="520.90,301.80 524.10,301.80 530.90,292.20 537.70,301.80 540.90,301.80" fill="none" stroke="#c0801a" stroke-width="0.9" stroke-linejoin="round"/>
<text transform="translate(530.90,286.87) scale(1,1.000)" class="lh" style="font-size:12.8px">C</text>
<text transform="translate(530.90,286.87) scale(1,1.000)" class="lt" style="font-size:12.8px">C</text>
<text transform="translate(530.90,316.97) scale(1,1.000)" class="lh" style="font-size:12.8px">G</text>
<text transform="translate(530.90,316.97) scale(1,1.000)" class="lt" style="font-size:12.8px">G</text>
<linearGradient id="r14_yellow" gradientUnits="userSpaceOnUse" x1="561.00" y1="0" x2="581.00" y2="0"><stop offset="0" stop-color="#dc9c0c"/><stop offset="0.08" stop-color="#f4c228"/><stop offset="0.22" stop-color="#fff08c"/><stop offset="0.4" stop-color="#f6c82a"/><stop offset="0.75" stop-color="#f2bc1e"/><stop offset="1" stop-color="#d89a0c"/></linearGradient>
<linearGradient id="r14_blue" gradientUnits="userSpaceOnUse" x1="561.00" y1="0" x2="581.00" y2="0"><stop offset="0" stop-color="#2264ac"/><stop offset="0.08" stop-color="#3d8ad4"/><stop offset="0.22" stop-color="#8cc4f0"/><stop offset="0.4" stop-color="#3a88d4"/><stop offset="0.75" stop-color="#3380cc"/><stop offset="1" stop-color="#2768b0"/></linearGradient>
<path d="M561.00,260.00 H581.00 V346.30 A10.00,3.00 0 0 1 561.00,346.30 Z" fill="url(#r14_blue)"/>
<path d="M561.00,260.00 H581.00 V302.50 L577.80,302.50 L571.00,293.10 L564.20,302.50 L561.00,302.50 Z" fill="url(#r14_yellow)"/>
<polyline points="561.00,302.50 564.20,302.50 571.00,293.10 577.80,302.50 581.00,302.50" fill="none" stroke="#c0801a" stroke-width="0.9" stroke-linejoin="round"/>
<text transform="translate(571.00,287.87) scale(1,1.000)" class="lh" style="font-size:12.8px">C</text>
<text transform="translate(571.00,287.87) scale(1,1.000)" class="lt" style="font-size:12.8px">C</text>
<text transform="translate(571.00,318.67) scale(1,1.000)" class="lh" style="font-size:12.8px">G</text>
<text transform="translate(571.00,318.67) scale(1,1.000)" class="lt" style="font-size:12.8px">G</text>
<linearGradient id="r15_green" gradientUnits="userSpaceOnUse" x1="616.80" y1="0" x2="636.80" y2="0"><stop offset="0" stop-color="#2c882c"/><stop offset="0.08" stop-color="#48ac40"/><stop offset="0.22" stop-color="#b0e094"/><stop offset="0.4" stop-color="#52b246"/><stop offset="0.75" stop-color="#46a43c"/><stop offset="1" stop-color="#2c862c"/></linearGradient>
<linearGradient id="r15_red" gradientUnits="userSpaceOnUse" x1="616.80" y1="0" x2="636.80" y2="0"><stop offset="0" stop-color="#a60e1a"/><stop offset="0.08" stop-color="#d41c26"/><stop offset="0.22" stop-color="#f47a74"/><stop offset="0.4" stop-color="#dc1e28"/><stop offset="0.75" stop-color="#d01822"/><stop offset="1" stop-color="#a00e18"/></linearGradient>
<path d="M616.80,258.00 H636.80 V342.40 A10.00,3.00 0 0 1 616.80,342.40 Z" fill="url(#r15_red)"/>
<path d="M616.80,258.00 H636.80 V299.50 H616.80 Z" fill="url(#r15_green)"/>
<circle cx="626.80" cy="295.00" r="6.50" fill="#175617"/>
<path d="M622.08,295.00 L631.51,295.00 L633.72,299.50 L619.88,299.50 Z" fill="#175617"/>
<rect x="616.80" y="299.50" width="20.00" height="8.50" fill="url(#r15_red)"/>
<circle cx="626.80" cy="295.00" r="5.10" fill="url(#r15_red)"/>
<path d="M623.48,295.00 L630.12,295.00 L632.12,299.80 L621.48,299.80 Z" fill="url(#r15_red)"/>
<text transform="translate(626.80,284.77) scale(1,1.000)" class="lh" style="font-size:12.8px">T</text>
<text transform="translate(626.80,284.77) scale(1,1.000)" class="lt" style="font-size:12.8px">T</text>
<text transform="translate(626.80,315.97) scale(1,1.000)" class="lh" style="font-size:12.8px">A</text>
<text transform="translate(626.80,315.97) scale(1,1.000)" class="lt" style="font-size:12.8px">A</text>
<linearGradient id="r16_green" gradientUnits="userSpaceOnUse" x1="656.40" y1="0" x2="676.40" y2="0"><stop offset="0" stop-color="#2c882c"/><stop offset="0.08" stop-color="#48ac40"/><stop offset="0.22" stop-color="#b0e094"/><stop offset="0.4" stop-color="#52b246"/><stop offset="0.75" stop-color="#46a43c"/><stop offset="1" stop-color="#2c862c"/></linearGradient>
<linearGradient id="r16_red" gradientUnits="userSpaceOnUse" x1="656.40" y1="0" x2="676.40" y2="0"><stop offset="0" stop-color="#a60e1a"/><stop offset="0.08" stop-color="#d41c26"/><stop offset="0.22" stop-color="#f47a74"/><stop offset="0.4" stop-color="#dc1e28"/><stop offset="0.75" stop-color="#d01822"/><stop offset="1" stop-color="#a00e18"/></linearGradient>
<path d="M656.40,258.00 H676.40 V341.60 A10.00,3.00 0 0 1 656.40,341.60 Z" fill="url(#r16_red)"/>
<path d="M656.40,258.00 H676.40 V298.30 H656.40 Z" fill="url(#r16_green)"/>
<circle cx="666.40" cy="292.90" r="6.50" fill="#175617"/>
<path d="M661.68,292.90 L671.12,292.90 L673.32,298.30 L659.48,298.30 Z" fill="#175617"/>
<rect x="656.40" y="298.30" width="20.00" height="8.50" fill="url(#r16_red)"/>
<circle cx="666.40" cy="292.90" r="5.10" fill="url(#r16_red)"/>
<path d="M663.08,292.90 L669.72,292.90 L671.72,298.60 L661.08,298.60 Z" fill="url(#r16_red)"/>
<text transform="translate(666.40,282.47) scale(1,1.000)" class="lh" style="font-size:12.8px">T</text>
<text transform="translate(666.40,282.47) scale(1,1.000)" class="lt" style="font-size:12.8px">T</text>
<text transform="translate(666.40,313.67) scale(1,1.000)" class="lh" style="font-size:12.8px">A</text>
<text transform="translate(666.40,313.67) scale(1,1.000)" class="lt" style="font-size:12.8px">A</text>
<linearGradient id="r17_green" gradientUnits="userSpaceOnUse" x1="696.00" y1="0" x2="716.00" y2="0"><stop offset="0" stop-color="#2c882c"/><stop offset="0.08" stop-color="#48ac40"/><stop offset="0.22" stop-color="#b0e094"/><stop offset="0.4" stop-color="#52b246"/><stop offset="0.75" stop-color="#46a43c"/><stop offset="1" stop-color="#2c862c"/></linearGradient>
<linearGradient id="r17_red" gradientUnits="userSpaceOnUse" x1="696.00" y1="0" x2="716.00" y2="0"><stop offset="0" stop-color="#a60e1a"/><stop offset="0.08" stop-color="#d41c26"/><stop offset="0.22" stop-color="#f47a74"/><stop offset="0.4" stop-color="#dc1e28"/><stop offset="0.75" stop-color="#d01822"/><stop offset="1" stop-color="#a00e18"/></linearGradient>
<path d="M696.00,258.00 H716.00 V342.40 A10.00,3.00 0 0 1 696.00,342.40 Z" fill="url(#r17_red)"/>
<path d="M696.00,258.00 H716.00 V299.00 H696.00 Z" fill="url(#r17_green)"/>
<circle cx="706.00" cy="293.70" r="6.50" fill="#175617"/>
<path d="M701.28,293.70 L710.72,293.70 L712.92,299.00 L699.08,299.00 Z" fill="#175617"/>
<rect x="696.00" y="299.00" width="20.00" height="8.50" fill="url(#r17_red)"/>
<circle cx="706.00" cy="293.70" r="5.10" fill="url(#r17_red)"/>
<path d="M702.68,293.70 L709.32,293.70 L711.32,299.30 L700.68,299.30 Z" fill="url(#r17_red)"/>
<text transform="translate(706.00,283.77) scale(1,1.000)" class="lh" style="font-size:12.8px">T</text>
<text transform="translate(706.00,283.77) scale(1,1.000)" class="lt" style="font-size:12.8px">T</text>
<text transform="translate(706.00,314.37) scale(1,1.000)" class="lh" style="font-size:12.8px">A</text>
<text transform="translate(706.00,314.37) scale(1,1.000)" class="lt" style="font-size:12.8px">A</text>
<polygon points="500.40,255.50 506.36,255.90 512.31,256.35 518.27,256.82 524.22,257.30 530.18,257.76 536.13,258.20 542.09,258.58 548.05,258.88 554.02,259.10 560.00,259.20 566.01,259.18 572.05,259.03 578.13,258.80 584.21,258.49 590.29,258.13 596.34,257.74 602.35,257.34 608.31,256.95 614.20,256.60 620.00,256.30 625.74,256.02 631.46,255.72 637.14,255.41 642.77,255.10 648.35,254.80 653.86,254.53 659.29,254.29 664.63,254.10 669.87,253.96 675.00,253.90 679.99,253.92 684.83,254.00 689.55,254.15 694.18,254.35 698.74,254.58 703.25,254.83 707.75,255.09 712.26,255.35 716.80,255.59 721.40,255.80 734.50,271.30 728.53,270.85 722.53,270.36 716.51,269.84 710.48,269.31 704.47,268.79 698.48,268.31 692.52,267.88 686.61,267.52 680.77,267.26 675.00,267.10 669.34,267.07 663.79,267.14 658.33,267.31 652.92,267.55 647.53,267.84 642.14,268.17 636.73,268.51 631.25,268.84 625.68,269.14 620.00,269.40 614.14,269.64 608.09,269.91 601.92,270.18 595.67,270.46 589.42,270.74 583.21,271.00 577.11,271.23 571.16,271.43 565.44,271.59 560.00,271.70 554.85,271.75 549.94,271.75 545.24,271.71 540.69,271.64 536.26,271.54 531.89,271.42 527.56,271.30 523.21,271.19 518.81,271.08 514.30,271.00" fill="url(#g_band)"/>
<polygon points="500.40,255.50 506.36,255.90 512.31,256.35 518.27,256.82 524.22,257.30 530.18,257.76 536.13,258.20 542.09,258.58 548.05,258.88 554.02,259.10 560.00,259.20 566.01,259.18 572.05,259.03 578.13,258.80 584.21,258.49 590.29,258.13 596.34,257.74 602.35,257.34 608.31,256.95 614.20,256.60 620.00,256.30 625.74,256.02 631.46,255.72 637.14,255.41 642.77,255.10 648.35,254.80 653.86,254.53 659.29,254.29 664.63,254.10 669.87,253.96 675.00,253.90 679.99,253.92 684.83,254.00 689.55,254.15 694.18,254.35 698.74,254.58 703.25,254.83 707.75,255.09 712.26,255.35 716.80,255.59 721.40,255.80 734.50,268.50 728.53,268.05 722.53,267.56 716.51,267.04 710.48,266.51 704.47,265.99 698.48,265.51 692.52,265.08 686.61,264.72 680.77,264.46 675.00,264.30 669.34,264.27 663.79,264.34 658.33,264.51 652.92,264.75 647.53,265.04 642.14,265.37 636.73,265.71 631.25,266.04 625.68,266.34 620.00,266.60 614.14,266.84 608.09,267.11 601.92,267.38 595.67,267.66 589.42,267.94 583.21,268.20 577.11,268.43 571.16,268.63 565.44,268.79 560.00,268.90 554.85,268.95 549.94,268.95 545.24,268.91 540.69,268.84 536.26,268.74 531.89,268.62 527.56,268.50 523.21,268.39 518.81,268.28 514.30,268.20" fill="url(#g_strand)"/>
<rect x="585.90" y="252.20" width="26.40" height="106.40" rx="13.20" ry="12.54" fill="none" stroke="#1a1a1a" stroke-width="1.6" stroke-dasharray="4.4 2.6"/>
<polygon points="498.20,483.50 505.37,483.93 512.51,484.40 519.64,484.89 526.77,485.39 533.90,485.88 541.05,486.33 548.22,486.74 555.44,487.08 562.69,487.34 570.00,487.50 577.35,487.55 584.72,487.50 592.11,487.38 599.53,487.19 606.99,486.96 614.49,486.68 622.03,486.38 629.63,486.08 637.28,485.78 645.00,485.50 652.89,485.20 661.01,484.83 669.28,484.43 677.62,484.00 685.97,483.58 694.24,483.18 702.35,482.82 710.23,482.52 717.81,482.31 725.00,482.20 731.78,482.20 738.21,482.30 744.36,482.48 750.28,482.72 756.03,483.00 761.68,483.31 767.30,483.63 772.93,483.95 778.64,484.24 784.50,484.50 795.90,500.00 788.85,499.50 781.87,498.94 774.92,498.35 767.98,497.76 761.02,497.18 754.02,496.64 746.94,496.16 739.76,495.76 732.46,495.47 725.00,495.30 717.35,495.28 709.50,495.38 701.51,495.59 693.42,495.88 685.26,496.23 677.08,496.62 668.92,497.02 660.83,497.42 652.84,497.79 645.00,498.10 637.22,498.40 629.41,498.73 621.60,499.08 613.83,499.44 606.13,499.79 598.54,500.11 591.10,500.40 583.84,500.63 576.79,500.81 570.00,500.90 563.51,500.91 557.30,500.83 551.33,500.70 545.54,500.51 539.89,500.29 534.33,500.04 528.80,499.78 523.25,499.53 517.63,499.30 511.90,499.10" fill="url(#g_band)"/>
<polygon points="498.20,483.50 505.37,483.93 512.51,484.40 519.64,484.89 526.77,485.39 533.90,485.88 541.05,486.33 548.22,486.74 555.44,487.08 562.69,487.34 570.00,487.50 577.35,487.55 584.72,487.50 592.11,487.38 599.53,487.19 606.99,486.96 614.49,486.68 622.03,486.38 629.63,486.08 637.28,485.78 645.00,485.50 652.89,485.20 661.01,484.83 669.28,484.43 677.62,484.00 685.97,483.58 694.24,483.18 702.35,482.82 710.23,482.52 717.81,482.31 725.00,482.20 731.78,482.20 738.21,482.30 744.36,482.48 750.28,482.72 756.03,483.00 761.68,483.31 767.30,483.63 772.93,483.95 778.64,484.24 784.50,484.50 795.90,497.20 788.85,496.70 781.87,496.14 774.92,495.55 767.98,494.96 761.02,494.38 754.02,493.84 746.94,493.36 739.76,492.96 732.46,492.67 725.00,492.50 717.35,492.48 709.50,492.58 701.51,492.79 693.42,493.08 685.26,493.43 677.08,493.82 668.92,494.22 660.83,494.62 652.84,494.99 645.00,495.30 637.22,495.60 629.41,495.93 621.60,496.28 613.83,496.64 606.13,496.99 598.54,497.31 591.10,497.60 583.84,497.83 576.79,498.01 570.00,498.10 563.51,498.11 557.30,498.03 551.33,497.90 545.54,497.71 539.89,497.49 534.33,497.24 528.80,496.98 523.25,496.73 517.63,496.50 511.90,496.30" fill="url(#g_strand_b)"/>
<linearGradient id="r18_yellow" gradientUnits="userSpaceOnUse" x1="518.40" y1="0" x2="538.40" y2="0"><stop offset="0" stop-color="#dc9c0c"/><stop offset="0.08" stop-color="#f4c228"/><stop offset="0.22" stop-color="#fff08c"/><stop offset="0.4" stop-color="#f6c82a"/><stop offset="0.75" stop-color="#f2bc1e"/><stop offset="1" stop-color="#d89a0c"/></linearGradient>
<linearGradient id="r18_blue" gradientUnits="userSpaceOnUse" x1="518.40" y1="0" x2="538.40" y2="0"><stop offset="0" stop-color="#2264ac"/><stop offset="0.08" stop-color="#3d8ad4"/><stop offset="0.22" stop-color="#8cc4f0"/><stop offset="0.4" stop-color="#3a88d4"/><stop offset="0.75" stop-color="#3380cc"/><stop offset="1" stop-color="#2768b0"/></linearGradient>
<path d="M518.40,405.00 H538.40 V488.90 A10.00,3.00 0 0 1 518.40,488.90 Z" fill="url(#r18_blue)"/>
<path d="M518.40,405.00 H538.40 V446.10 L535.20,446.10 L528.40,436.70 L521.60,446.10 L518.40,446.10 Z" fill="url(#r18_yellow)"/>
<polyline points="518.40,446.10 521.60,446.10 528.40,436.70 535.20,446.10 538.40,446.10" fill="none" stroke="#c0801a" stroke-width="0.9" stroke-linejoin="round"/>
<text transform="translate(528.40,430.67) scale(1,1.000)" class="lh" style="font-size:12.8px">C</text>
<text transform="translate(528.40,430.67) scale(1,1.000)" class="lt" style="font-size:12.8px">C</text>
<text transform="translate(528.40,461.77) scale(1,1.000)" class="lh" style="font-size:12.8px">G</text>
<text transform="translate(528.40,461.77) scale(1,1.000)" class="lt" style="font-size:12.8px">G</text>
<linearGradient id="r19_yellow" gradientUnits="userSpaceOnUse" x1="558.80" y1="0" x2="578.80" y2="0"><stop offset="0" stop-color="#dc9c0c"/><stop offset="0.08" stop-color="#f4c228"/><stop offset="0.22" stop-color="#fff08c"/><stop offset="0.4" stop-color="#f6c82a"/><stop offset="0.75" stop-color="#f2bc1e"/><stop offset="1" stop-color="#d89a0c"/></linearGradient>
<linearGradient id="r19_blue" gradientUnits="userSpaceOnUse" x1="558.80" y1="0" x2="578.80" y2="0"><stop offset="0" stop-color="#2264ac"/><stop offset="0.08" stop-color="#3d8ad4"/><stop offset="0.22" stop-color="#8cc4f0"/><stop offset="0.4" stop-color="#3a88d4"/><stop offset="0.75" stop-color="#3380cc"/><stop offset="1" stop-color="#2768b0"/></linearGradient>
<path d="M558.80,405.00 H578.80 V489.80 A10.00,3.00 0 0 1 558.80,489.80 Z" fill="url(#r19_blue)"/>
<path d="M558.80,405.00 H578.80 V446.10 L575.60,446.10 L568.80,436.40 L562.00,446.10 L558.80,446.10 Z" fill="url(#r19_yellow)"/>
<polyline points="558.80,446.10 562.00,446.10 568.80,436.40 575.60,446.10 578.80,446.10" fill="none" stroke="#c0801a" stroke-width="0.9" stroke-linejoin="round"/>
<text transform="translate(568.80,430.57) scale(1,1.000)" class="lh" style="font-size:12.8px">C</text>
<text transform="translate(568.80,430.57) scale(1,1.000)" class="lt" style="font-size:12.8px">C</text>
<text transform="translate(568.80,461.37) scale(1,1.000)" class="lh" style="font-size:12.8px">G</text>
<text transform="translate(568.80,461.37) scale(1,1.000)" class="lt" style="font-size:12.8px">G</text>
<linearGradient id="r20_yellow" gradientUnits="userSpaceOnUse" x1="598.90" y1="0" x2="618.90" y2="0"><stop offset="0" stop-color="#dc9c0c"/><stop offset="0.08" stop-color="#f4c228"/><stop offset="0.22" stop-color="#fff08c"/><stop offset="0.4" stop-color="#f6c82a"/><stop offset="0.75" stop-color="#f2bc1e"/><stop offset="1" stop-color="#d89a0c"/></linearGradient>
<linearGradient id="r20_blue" gradientUnits="userSpaceOnUse" x1="598.90" y1="0" x2="618.90" y2="0"><stop offset="0" stop-color="#2264ac"/><stop offset="0.08" stop-color="#3d8ad4"/><stop offset="0.22" stop-color="#8cc4f0"/><stop offset="0.4" stop-color="#3a88d4"/><stop offset="0.75" stop-color="#3380cc"/><stop offset="1" stop-color="#2768b0"/></linearGradient>
<path d="M598.90,405.00 H618.90 V489.80 A10.00,3.00 0 0 1 598.90,489.80 Z" fill="url(#r20_blue)"/>
<path d="M598.90,405.00 H618.90 V446.10 L615.70,446.10 L608.90,436.10 L602.10,446.10 L598.90,446.10 Z" fill="url(#r20_yellow)"/>
<polyline points="598.90,446.10 602.10,446.10 608.90,436.10 615.70,446.10 618.90,446.10" fill="none" stroke="#c0801a" stroke-width="0.9" stroke-linejoin="round"/>
<text transform="translate(608.90,430.37) scale(1,1.000)" class="lh" style="font-size:12.8px">C</text>
<text transform="translate(608.90,430.37) scale(1,1.000)" class="lt" style="font-size:12.8px">C</text>
<text transform="translate(608.90,460.97) scale(1,1.000)" class="lh" style="font-size:12.8px">G</text>
<text transform="translate(608.90,460.97) scale(1,1.000)" class="lt" style="font-size:12.8px">G</text>
<linearGradient id="r21_blue" gradientUnits="userSpaceOnUse" x1="639.00" y1="0" x2="659.00" y2="0"><stop offset="0" stop-color="#2264ac"/><stop offset="0.08" stop-color="#3d8ad4"/><stop offset="0.22" stop-color="#8cc4f0"/><stop offset="0.4" stop-color="#3a88d4"/><stop offset="0.75" stop-color="#3380cc"/><stop offset="1" stop-color="#2768b0"/></linearGradient>
<linearGradient id="r21_yellow" gradientUnits="userSpaceOnUse" x1="639.00" y1="0" x2="659.00" y2="0"><stop offset="0" stop-color="#dc9c0c"/><stop offset="0.08" stop-color="#f4c228"/><stop offset="0.22" stop-color="#fff08c"/><stop offset="0.4" stop-color="#f6c82a"/><stop offset="0.75" stop-color="#f2bc1e"/><stop offset="1" stop-color="#d89a0c"/></linearGradient>
<path d="M639.00,405.00 H659.00 V486.20 A10.00,3.00 0 0 1 639.00,486.20 Z" fill="url(#r21_yellow)"/>
<path d="M639.00,405.00 H659.00 V456.20 L655.80,456.20 L649.00,464.60 L642.20,456.20 L639.00,456.20 Z" fill="url(#r21_blue)"/>
<polyline points="639.00,456.20 642.20,456.20 649.00,464.60 655.80,456.20 659.00,456.20" fill="none" stroke="#c0801a" stroke-width="0.9" stroke-linejoin="round"/>
<text transform="translate(649.00,448.37) scale(1,1.000)" class="lh" style="font-size:12.8px">G</text>
<text transform="translate(649.00,448.37) scale(1,1.000)" class="lt" style="font-size:12.8px">G</text>
<text transform="translate(649.00,478.67) scale(1,1.000)" class="lh" style="font-size:12.8px">C</text>
<text transform="translate(649.00,478.67) scale(1,1.000)" class="lt" style="font-size:12.8px">C</text>
<linearGradient id="r22_green" gradientUnits="userSpaceOnUse" x1="677.80" y1="0" x2="697.80" y2="0"><stop offset="0" stop-color="#2c882c"/><stop offset="0.08" stop-color="#48ac40"/><stop offset="0.22" stop-color="#b0e094"/><stop offset="0.4" stop-color="#52b246"/><stop offset="0.75" stop-color="#46a43c"/><stop offset="1" stop-color="#2c862c"/></linearGradient>
<linearGradient id="r22_red" gradientUnits="userSpaceOnUse" x1="677.80" y1="0" x2="697.80" y2="0"><stop offset="0" stop-color="#a60e1a"/><stop offset="0.08" stop-color="#d41c26"/><stop offset="0.22" stop-color="#f47a74"/><stop offset="0.4" stop-color="#dc1e28"/><stop offset="0.75" stop-color="#d01822"/><stop offset="1" stop-color="#a00e18"/></linearGradient>
<path d="M677.80,403.00 H697.80 V486.20 A10.00,3.00 0 0 1 677.80,486.20 Z" fill="url(#r22_red)"/>
<path d="M677.80,403.00 H697.80 V443.60 H677.80 Z" fill="url(#r22_green)"/>
<circle cx="687.80" cy="438.20" r="6.50" fill="#175617"/>
<path d="M683.08,438.20 L692.51,438.20 L694.72,443.60 L680.88,443.60 Z" fill="#175617"/>
<rect x="677.80" y="443.60" width="20.00" height="8.50" fill="url(#r22_red)"/>
<circle cx="687.80" cy="438.20" r="5.10" fill="url(#r22_red)"/>
<path d="M684.48,438.20 L691.12,438.20 L693.12,443.90 L682.48,443.90 Z" fill="url(#r22_red)"/>
<text transform="translate(687.80,427.57) scale(1,1.000)" class="lh" style="font-size:12.8px">T</text>
<text transform="translate(687.80,427.57) scale(1,1.000)" class="lt" style="font-size:12.8px">T</text>
<text transform="translate(687.80,459.17) scale(1,1.000)" class="lh" style="font-size:12.8px">A</text>
<text transform="translate(687.80,459.17) scale(1,1.000)" class="lt" style="font-size:12.8px">A</text>
<linearGradient id="r23_green" gradientUnits="userSpaceOnUse" x1="717.90" y1="0" x2="737.90" y2="0"><stop offset="0" stop-color="#2c882c"/><stop offset="0.08" stop-color="#48ac40"/><stop offset="0.22" stop-color="#b0e094"/><stop offset="0.4" stop-color="#52b246"/><stop offset="0.75" stop-color="#46a43c"/><stop offset="1" stop-color="#2c862c"/></linearGradient>
<linearGradient id="r23_red" gradientUnits="userSpaceOnUse" x1="717.90" y1="0" x2="737.90" y2="0"><stop offset="0" stop-color="#a60e1a"/><stop offset="0.08" stop-color="#d41c26"/><stop offset="0.22" stop-color="#f47a74"/><stop offset="0.4" stop-color="#dc1e28"/><stop offset="0.75" stop-color="#d01822"/><stop offset="1" stop-color="#a00e18"/></linearGradient>
<path d="M717.90,403.00 H737.90 V484.90 A10.00,3.00 0 0 1 717.90,484.90 Z" fill="url(#r23_red)"/>
<path d="M717.90,403.00 H737.90 V443.00 H717.90 Z" fill="url(#r23_green)"/>
<circle cx="727.90" cy="437.80" r="6.50" fill="#175617"/>
<path d="M723.18,437.80 L732.62,437.80 L734.82,443.00 L720.98,443.00 Z" fill="#175617"/>
<rect x="717.90" y="443.00" width="20.00" height="8.50" fill="url(#r23_red)"/>
<circle cx="727.90" cy="437.80" r="5.10" fill="url(#r23_red)"/>
<path d="M724.58,437.80 L731.22,437.80 L733.22,443.30 L722.58,443.30 Z" fill="url(#r23_red)"/>
<text transform="translate(727.90,427.17) scale(1,1.000)" class="lh" style="font-size:12.8px">T</text>
<text transform="translate(727.90,427.17) scale(1,1.000)" class="lt" style="font-size:12.8px">T</text>
<text transform="translate(727.90,458.87) scale(1,1.000)" class="lh" style="font-size:12.8px">A</text>
<text transform="translate(727.90,458.87) scale(1,1.000)" class="lt" style="font-size:12.8px">A</text>
<linearGradient id="r24_green" gradientUnits="userSpaceOnUse" x1="757.40" y1="0" x2="777.40" y2="0"><stop offset="0" stop-color="#2c882c"/><stop offset="0.08" stop-color="#48ac40"/><stop offset="0.22" stop-color="#b0e094"/><stop offset="0.4" stop-color="#52b246"/><stop offset="0.75" stop-color="#46a43c"/><stop offset="1" stop-color="#2c862c"/></linearGradient>
<linearGradient id="r24_red" gradientUnits="userSpaceOnUse" x1="757.40" y1="0" x2="777.40" y2="0"><stop offset="0" stop-color="#a60e1a"/><stop offset="0.08" stop-color="#d41c26"/><stop offset="0.22" stop-color="#f47a74"/><stop offset="0.4" stop-color="#dc1e28"/><stop offset="0.75" stop-color="#d01822"/><stop offset="1" stop-color="#a00e18"/></linearGradient>
<path d="M757.40,403.00 H777.40 V485.70 A10.00,3.00 0 0 1 757.40,485.70 Z" fill="url(#r24_red)"/>
<path d="M757.40,403.00 H777.40 V442.50 H757.40 Z" fill="url(#r24_green)"/>
<circle cx="767.40" cy="437.40" r="6.50" fill="#175617"/>
<path d="M762.68,437.40 L772.12,437.40 L774.32,442.50 L760.48,442.50 Z" fill="#175617"/>
<rect x="757.40" y="442.50" width="20.00" height="8.50" fill="url(#r24_red)"/>
<circle cx="767.40" cy="437.40" r="5.10" fill="url(#r24_red)"/>
<path d="M764.08,437.40 L770.72,437.40 L772.72,442.80 L762.08,442.80 Z" fill="url(#r24_red)"/>
<text transform="translate(767.40,426.77) scale(1,1.000)" class="lh" style="font-size:12.8px">T</text>
<text transform="translate(767.40,426.77) scale(1,1.000)" class="lt" style="font-size:12.8px">T</text>
<text transform="translate(767.40,458.67) scale(1,1.000)" class="lh" style="font-size:12.8px">A</text>
<text transform="translate(767.40,458.67) scale(1,1.000)" class="lt" style="font-size:12.8px">A</text>
<polygon points="498.20,399.30 505.37,399.68 512.51,400.09 519.64,400.53 526.77,400.98 533.90,401.41 541.05,401.82 548.22,402.18 555.44,402.47 562.69,402.68 570.00,402.80 577.35,402.81 584.72,402.73 592.11,402.57 599.53,402.35 606.99,402.08 614.49,401.77 622.03,401.45 629.63,401.12 637.28,400.80 645.00,400.50 652.89,400.19 661.01,399.81 669.28,399.41 677.62,398.98 685.97,398.56 694.24,398.16 702.35,397.81 710.23,397.52 717.81,397.31 725.00,397.20 731.78,397.20 738.21,397.30 744.36,397.48 750.28,397.72 756.03,398.00 761.68,398.31 767.30,398.63 772.93,398.95 778.64,399.24 784.50,399.50 795.90,414.50 788.85,414.05 781.87,413.55 774.92,413.02 767.98,412.48 761.02,411.96 754.02,411.48 746.94,411.05 739.76,410.69 732.46,410.44 725.00,410.30 717.35,410.30 709.50,410.42 701.51,410.64 693.42,410.94 685.26,411.30 677.08,411.69 668.92,412.08 660.83,412.47 652.84,412.81 645.00,413.10 637.22,413.36 629.41,413.63 621.60,413.91 613.83,414.19 606.13,414.45 598.54,414.69 591.10,414.91 583.84,415.09 576.79,415.22 570.00,415.30 563.51,415.32 557.30,415.28 551.33,415.19 545.54,415.06 539.89,414.91 534.33,414.74 528.80,414.57 523.25,414.39 517.63,414.24 511.90,414.10" fill="url(#g_band)"/>
<polygon points="498.20,399.30 505.37,399.68 512.51,400.09 519.64,400.53 526.77,400.98 533.90,401.41 541.05,401.82 548.22,402.18 555.44,402.47 562.69,402.68 570.00,402.80 577.35,402.81 584.72,402.73 592.11,402.57 599.53,402.35 606.99,402.08 614.49,401.77 622.03,401.45 629.63,401.12 637.28,400.80 645.00,400.50 652.89,400.19 661.01,399.81 669.28,399.41 677.62,398.98 685.97,398.56 694.24,398.16 702.35,397.81 710.23,397.52 717.81,397.31 725.00,397.20 731.78,397.20 738.21,397.30 744.36,397.48 750.28,397.72 756.03,398.00 761.68,398.31 767.30,398.63 772.93,398.95 778.64,399.24 784.50,399.50 795.90,411.70 788.85,411.25 781.87,410.75 774.92,410.22 767.98,409.68 761.02,409.16 754.02,408.68 746.94,408.25 739.76,407.89 732.46,407.64 725.00,407.50 717.35,407.50 709.50,407.62 701.51,407.84 693.42,408.14 685.26,408.50 677.08,408.89 668.92,409.28 660.83,409.67 652.84,410.01 645.00,410.30 637.22,410.56 629.41,410.83 621.60,411.11 613.83,411.39 606.13,411.65 598.54,411.89 591.10,412.11 583.84,412.29 576.79,412.42 570.00,412.50 563.51,412.52 557.30,412.48 551.33,412.39 545.54,412.26 539.89,412.11 534.33,411.94 528.80,411.77 523.25,411.59 517.63,411.44 511.90,411.30" fill="url(#g_strand)"/>
<rect x="630.10" y="396.20" width="36.70" height="105.00" rx="18.35" ry="17.43" fill="none" stroke="#1a1a1a" stroke-width="1.6" stroke-dasharray="4.4 2.6"/>
<defs><linearGradient id="ga1" gradientUnits="userSpaceOnUse" x1="322" y1="280" x2="497" y2="160"><stop offset="0" stop-color="#ffffff"/><stop offset="0.12" stop-color="#eef5fc"/><stop offset="0.45" stop-color="#b8d6f0"/><stop offset="1" stop-color="#62aae0"/></linearGradient><linearGradient id="ga2" gradientUnits="userSpaceOnUse" x1="316" y1="0" x2="495" y2="0"><stop offset="0" stop-color="#ffffff"/><stop offset="0.12" stop-color="#eef5fc"/><stop offset="0.45" stop-color="#b8d6f0"/><stop offset="1" stop-color="#62aae0"/></linearGradient><linearGradient id="ga3" gradientUnits="userSpaceOnUse" x1="322" y1="338" x2="497" y2="454"><stop offset="0" stop-color="#ffffff"/><stop offset="0.12" stop-color="#eef5fc"/><stop offset="0.45" stop-color="#b8d6f0"/><stop offset="1" stop-color="#62aae0"/></linearGradient></defs>
<polyline points="314.00,281.50 314.69,280.68 315.18,280.02 315.59,279.43 316.04,278.81 316.65,278.05 317.54,277.06 318.81,275.75 320.60,274.00 322.98,271.78 325.86,269.15 329.14,266.20 332.69,263.02 336.40,259.68 340.15,256.28 343.83,252.89 347.30,249.60 350.65,246.35 354.01,243.03 357.39,239.67 360.76,236.26 364.11,232.84 367.44,229.41 370.74,225.99 374.00,222.60 377.24,219.16 380.50,215.62 383.74,212.04 386.95,208.48 390.10,205.00 393.18,201.65 396.15,198.50 399.00,195.60 401.69,192.96 404.22,190.51 406.64,188.25 408.98,186.12 411.30,184.12 413.63,182.20 416.01,180.34 418.50,178.50 421.08,176.69 423.72,174.93 426.40,173.24 429.11,171.62 431.81,170.11 434.51,168.71 437.18,167.43 439.80,166.30 442.38,165.35 444.93,164.60 447.46,163.99 449.97,163.48 452.47,163.03 454.98,162.60 457.48,162.14 460.00,161.60" fill="none" stroke="url(#ga1)" stroke-width="20"/>
<polygon points="453.3,140.2 497,160.6 453.3,182.4 457.6,171.3 458,152" fill="url(#ga1)"/>
<rect x="316" y="299.6" width="142" height="18.2" fill="url(#ga2)"/>
<polygon points="452,288.6 494.8,308.6 452,328.5 457,317.8 457,299.6" fill="url(#ga2)"/>
<polyline points="314.00,329.00 314.68,329.64 315.14,330.06 315.52,330.40 315.94,330.77 316.54,331.33 317.42,332.18 318.74,333.46 320.60,335.30 323.11,337.76 326.19,340.76 329.69,344.17 333.49,347.89 337.45,351.80 341.43,355.80 345.29,359.77 348.90,363.60 352.35,367.40 355.80,371.32 359.24,375.32 362.65,379.36 366.01,383.37 369.30,387.34 372.50,391.19 375.60,394.90 378.58,398.51 381.45,402.08 384.23,405.59 386.94,409.02 389.61,412.35 392.24,415.56 394.87,418.61 397.50,421.50 400.12,424.22 402.71,426.81 405.26,429.26 407.79,431.57 410.32,433.76 412.84,435.83 415.36,437.77 417.90,439.60 420.44,441.30 422.97,442.86 425.49,444.29 428.02,445.60 430.55,446.80 433.11,447.89 435.69,448.89 438.30,449.80 440.95,450.57 443.63,451.18 446.34,451.66 449.07,452.06 451.81,452.40 454.54,452.73 457.28,453.08 460.00,453.50" fill="none" stroke="url(#ga3)" stroke-width="19.5"/>
<polygon points="452.3,433.2 496,454.1 452.3,474.8 456.9,462.7 455.4,444.2" fill="url(#ga3)"/>
<text class="cap" text-anchor="middle" transform="translate(375.6,222) rotate(-46.5) translate(0,5.6)">Substitution</text>
<text x="344" y="314.7" class="cap" style="letter-spacing:0.3px">Deletion</text>
<text class="cap" text-anchor="middle" transform="translate(366.5,389) rotate(47.5) translate(0,5.6)">Addition</text>
<text x="80.5" y="374.8" class="cap" style="letter-spacing:0.05px">Original DNA sequence</text>
<text x="502.8" y="232.5" class="cap" style="letter-spacing:0.1px">One base pair is substituted for another.</text>
<text x="502.8" y="379.2" class="cap" style="letter-spacing:0.05px">One base pair is removed.</text>
<text x="502.8" y="522" class="cap" style="letter-spacing:0.03px">One base pair is added.</text>
</svg>
</body></html>
